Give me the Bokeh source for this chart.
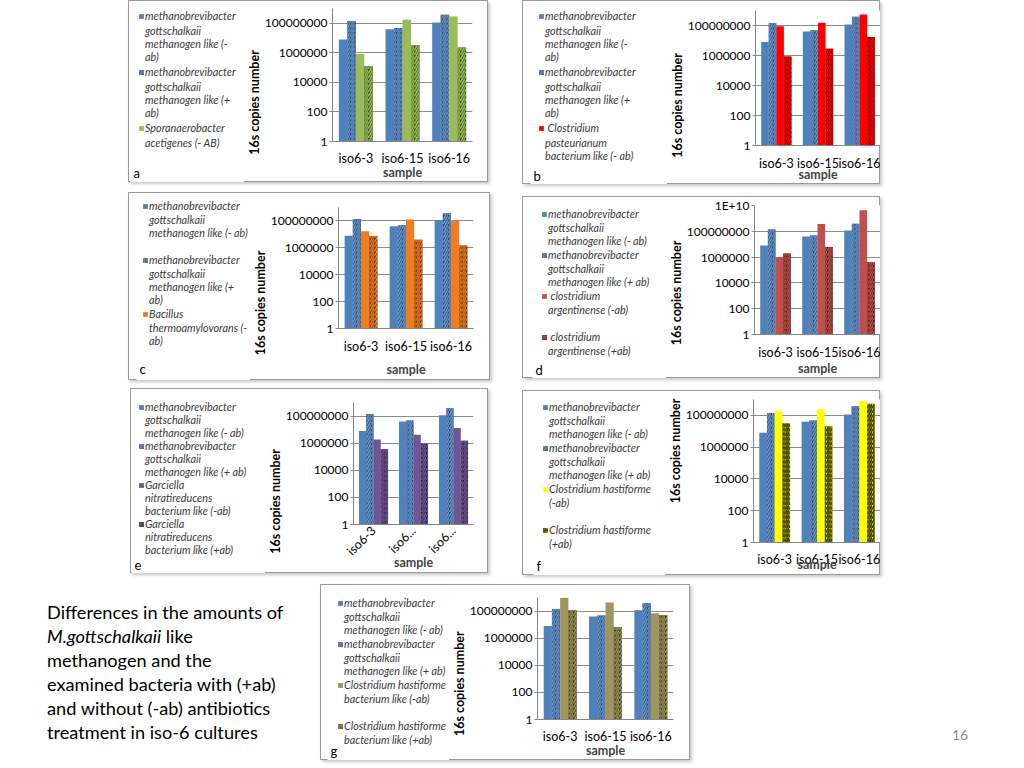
import math
from bokeh.plotting import figure
from bokeh.models import (FactorRange, Range1d, FixedTicker, CustomJSTickFormatter,
                          Legend, LegendItem, Title, Label, Spacer, Div, ColumnDataSource)
from bokeh.layouts import row, column
from bokeh.transform import dodge
from bokeh.embed import file_html
from bokeh.resources import INLINE

FONT = "Lato"

# ---------------- data ----------------
categories = ["iso6-3", "iso6-15", "iso6-16"]
e_tick_labels = ["iso6-3", "iso6...", "iso6..."]   # truncated labels shown in panel e
mg_minus = [8.0e6, 4.0e7, 1.15e8]      # methanobrevibacter gottschalkaii like (-ab)
mg_plus = [1.4e8, 4.8e7, 3.8e8]        # methanobrevibacter gottschalkaii like (+ab)
spor_minus = [8.5e5, 1.7e8, 2.9e8]     # Sporanaerobacter acetigenes (-ab)
spor_plus = [1.3e5, 3.2e6, 2.3e6]      # Sporanaerobacter acetigenes (+ab)
cpast_minus = [9.0e7, 1.5e8, 5.4e8]    # Clostridium pasteurianum (-ab)
cpast_plus = [8.6e5, 2.8e6, 1.7e7]     # Clostridium pasteurianum (+ab)
bac_minus = [1.7e7, 1.26e8, 1.0e8]     # Bacillus thermoamylovorans (-ab)
bac_plus = [7.5e6, 4.0e6, 1.5e6]       # Bacillus thermoamylovorans (+ab)
carg_minus = [1.0e6, 3.6e8, 4.2e9]     # clostridium argentinense (-ab)
carg_plus = [1.9e6, 6.0e6, 4.0e5]      # clostridium argentinense (+ab)
garc_minus = [1.9e6, 4.2e6, 1.3e7]     # Garciella nitratireducens (-ab)
garc_plus = [3.5e5, 9.0e5, 1.5e6]      # Garciella nitratireducens (+ab)
chast_minus = [1.9e8, 2.4e8, 8.0e8]    # Clostridium hastiforme (-ab), panel f
chast_plus = [3.2e7, 2.1e7, 5.5e8]     # Clostridium hastiforme (+ab), panel f
chastb_minus = [9.5e8, 4.3e8, 7.0e7]   # Clostridium hastiforme bacterium like (-ab), panel g
chastb_plus = [1.2e8, 6.6e6, 5.2e7]    # Clostridium hastiforme bacterium like (+ab), panel g

MG_M4 = "methanobrevibacter\ngottschalkaii\nmethanogen like (-\nab)"
MG_P4 = "methanobrevibacter\ngottschalkaii\nmethanogen like (+\nab)"
MG_M3 = "methanobrevibacter\ngottschalkaii\nmethanogen like (- ab)"
MG_P3 = "methanobrevibacter\ngottschalkaii\nmethanogen like (+ ab)"

OFFSETS = [-0.2727, -0.0909, 0.0909, 0.2727]
BW = 0.1818
LEG_FS = 10.8
LEG_LINE = 12.9     # rendered line pitch of the legend labels at LEG_FS
LEFT_ROOM = 83      # tick labels + rotated axis title
TITLE_LEN = 107     # approx. length of the rotated y title in px
BOX_STYLE = {"outline": "1px solid #9a9a9a", "outline-offset": "-1px",
             "box-shadow": "2px 2px 3px rgba(0,0,0,0.22)"}


def style_kw(st):
    fill, hatch, weight = st
    kw = dict(fill_color=fill, line_color=None)
    if hatch:
        kw.update(hatch_pattern="/", hatch_color=hatch, hatch_weight=weight, hatch_scale=4.6)
    return kw


def make_panel(letter, box, frame, ymax, series, styles, legend_labels, legend_first_line,
               pitch, ytitle_y, xstand, letter_xy, tick_labels=None):
    bx, by, W, H = box
    fl, ft, fr, fb = frame
    fl = int(round(fl))
    split = fl - LEFT_ROOM
    lx, l1 = legend_first_line
    ltop = l1 - LEG_LINE / 2
    ltx, lty = letter_xy
    sx = min(ltx - bx - 3, lx - bx)
    m = lx - bx - sx
    if ltop - by - m < 0:
        m = int(ltop - by)
        sx = lx - bx - m
    sy = int(round(ltop - by - m))
    ltx = max(ltx, bx + sx + 3)
    lty = min(lty, by + H - 9)
    first_lines = legend_labels[0].count("\n") + 1
    spacing = int(round(first_lines * (pitch - LEG_LINE) / 2))

    # ---- left part: legend and panel letter ----
    lf = figure(width=split - bx - sx, height=H - sy, x_range=Range1d(0, 1), y_range=Range1d(0, 1),
                output_backend="svg", toolbar_location=None,
                x_axis_location=None, y_axis_location=None,
                min_border_left=0, min_border_right=0, min_border_top=0, min_border_bottom=0)
    lf.outline_line_color = None
    lf.xgrid.visible = False
    lf.ygrid.visible = False
    # legend-only renderers: one bar placed outside the visible ranges
    dummies = [lf.vbar(x=[-10], top=[-5], bottom=[-6], width=0.1, **style_kw(st)) for st in styles]
    blank = lf.vbar(x=[-10], top=[-5], bottom=[-6], width=0.1, fill_alpha=0, line_alpha=0)
    items = []
    for i, lab in enumerate(legend_labels):
        first, _, rest = lab.partition("\n")
        items.append(LegendItem(label=first, renderers=[dummies[i]]))
        if rest:
            items.append(LegendItem(label=rest, renderers=[blank]))
    leg = Legend(items=items, location="top_left",
                 glyph_width=6, glyph_height=6, label_standoff=1, padding=0, spacing=spacing,
                 margin=m, label_height=10, label_width=10,
                 border_line_color=None, background_fill_alpha=0,
                 label_text_font=FONT, label_text_font_size=f"{LEG_FS}px",
                 label_text_font_style="italic", label_text_color="#3a3a3a")
    lf.add_layout(leg)
    lf.add_layout(Label(x=ltx - (bx + sx), y=(by + H) - lty, x_units="screen", y_units="screen",
                        text=letter, text_align="left", text_baseline="middle",
                        text_font=FONT, text_font_size="13px", text_color="black"))
    left = row(Spacer(width=sx, height=H), column(Spacer(width=10, height=sy), lf))

    # ---- chart part ----
    src = ColumnDataSource(dict(cat=categories, **{f"s{i}": s for i, s in enumerate(series)}))
    p = figure(width=bx + W - split, height=H,
               x_range=FactorRange(factors=categories, range_padding=0),
               y_range=Range1d(1, ymax), y_axis_type="log",
               output_backend="svg", toolbar_location=None,
               min_border_left=LEFT_ROOM, min_border_right=int(round(bx + W - fr)),
               min_border_top=int(round(ft - by)), min_border_bottom=int(round(by + H - fb)))
    p.outline_line_color = None
    p.background_fill_color = "white"
    p.border_fill_color = None

    ticks = [1, 1e2, 1e4, 1e6, 1e8] + ([1e10] if ymax >= 1e10 else [])
    tk = FixedTicker(ticks=ticks)
    p.yaxis.ticker = tk
    p.ygrid.ticker = tk
    p.yaxis.formatter = CustomJSTickFormatter(
        code="return tick >= 1e10 ? tick.toExponential(0).toUpperCase() : tick.toFixed(0);")
    p.ygrid.grid_line_color = "#8c8c8c"
    p.xgrid.grid_line_color = None

    for ax in (p.xaxis, p.yaxis):
        ax.axis_line_color = "#868686"
        ax.major_label_text_font = FONT
        ax.major_label_text_font_size = "12.5px"
        ax.major_label_text_color = "black"
        ax.minor_tick_line_color = None
    p.yaxis.major_label_text_font_size = "12px"
    p.yaxis.major_tick_line_color = "#868686"
    p.yaxis.major_tick_out = 3
    p.yaxis.major_tick_in = 0
    p.yaxis.major_label_standoff = 2
    p.xaxis.major_tick_line_color = None
    p.xaxis.major_tick_out = 0
    p.xaxis.major_label_standoff = xstand[0]
    p.xaxis.axis_label = "sample"
    p.xaxis.axis_label_text_font = FONT
    p.xaxis.axis_label_text_font_style = "bold"
    p.xaxis.axis_label_text_font_size = "12.5px"
    p.xaxis.axis_label_standoff = xstand[1]
    if tick_labels is not None:
        p.xaxis.major_label_orientation = math.pi / 4
        p.xaxis.formatter = CustomJSTickFormatter(
            args=dict(lab=dict(zip(categories, tick_labels))), code="return lab[tick];")

    p.add_layout(Title(text="16s copies number", align="left",
                       offset=fb - (ytitle_y + TITLE_LEN / 2),
                       standoff=0, text_font=FONT, text_font_style="bold",
                       text_font_size="12.5px", text_color="black"), "left")

    for i, st in enumerate(styles):
        p.vbar(x=dodge("cat", OFFSETS[i], range=p.x_range), top=f"s{i}", bottom=1,
               width=BW, source=src, **style_kw(st))

    return row(left, p, styles=BOX_STYLE)


BLUE = ("#4F81BD", None, 0)
BLUE_HATCH = ("#1C3557", "#6C9BD2", 1.5)


def sty(col, dark, hatch_on_dark=True, weight=1.6):
    if hatch_on_dark:
        return [BLUE, BLUE_HATCH, (col, None, 0), (dark, col, weight)]
    return [BLUE, BLUE_HATCH, (col, None, 0), (col, dark, weight)]


pa = make_panel("a", (128, 0, 360, 182), (327, 8.5, 472, 141.7), 1e9,
                [mg_minus, mg_plus, spor_minus, spor_plus], sty("#9BBB59", "#22300E"),
                [MG_M4, MG_P4, "Sporanaerobacter\nacetigenes (- AB)"],
                (138, 15), 13.75, 101.5, (9, -4), (133, 172))
pb = make_panel("b", (522, 0, 358, 184), (750, 10, 880, 145.7), 1e9,
                [mg_minus, mg_plus, cpast_minus, cpast_plus], sty("#FF0000", "#3A0000"),
                [MG_M4, MG_P4, " Clostridium\npasteurianum\nbacterium like (- ab)"],
                (538, 15), 13.8, 104.5, (10, -7), (533, 175))
pc = make_panel("c", (128, 192, 362, 188), (333, 207.4, 473, 327.7), 1e9,
                [mg_minus, mg_plus, bac_minus, bac_plus], sty("#F07D22", "#3A1800"),
                [MG_M3 + "\n ", MG_P4, "Bacillus\nthermoamylovorans (-\nab)"],
                (142, 205), 13.5, 301, (10, 5), (133, 368))
pd = make_panel("d", (522, 196, 358, 182), (749, 205, 880, 336.7), 1e10,
                [mg_minus, mg_plus, carg_minus, carg_plus], sty("#C0504D", "#2A0808"),
                [MG_M3, MG_P3, " clostridium\nargentinense (-ab)\n ", " clostridium\nargentinense (+ab)"],
                (541, 213), 13.3, 294, (10, -2), (535, 369))
pe = make_panel("e", (130, 388, 358, 185), (348, 402, 473, 524.3), 1e9,
                [mg_minus, mg_plus, garc_minus, garc_plus], sty("#6F5596", "#141018"),
                [MG_M3, MG_P3, "Garciella\nnitratireducens\nbacterium like (-ab)",
                 "Garciella\nnitratireducens\nbacterium like (+ab)"],
                (138, 406), 12.9, 500, (4, -12), (134, 564), tick_labels=e_tick_labels)
pf = make_panel("f", (522, 390, 358, 185), (748, 399, 880, 541.7), 1e9,
                [mg_minus, mg_plus, chast_minus, chast_plus],
                sty("#FFFF00", "#3B3B00", hatch_on_dark=False, weight=1.8),
                [MG_M3, MG_P3, "Clostridium hastiforme\n(-ab)\n ", "Clostridium hastiforme\n(+ab)"],
                (542, 406), 13.6, 449, (9, -13), (533, 565))
pg = make_panel("g", (320, 584, 370, 176), (532, 597, 673, 720), 1e9,
                [mg_minus, mg_plus, chastb_minus, chastb_plus], sty("#A0965C", "#1A1808"),
                [MG_M3, MG_P3, "Clostridium hastiforme\nbacterium like (-ab)\n ",
                 "Clostridium hastiforme\nbacterium like (+ab)"],
                (337, 602), 13.3, 683, (9, -4), (330, 750))

caption = Div(text=('<div style="font-family:Lato;font-size:18.2px;line-height:24px;color:#000;'
                    'white-space:nowrap;">'
                    'Differences in the amounts of<br><i>M.gottschalkaii</i> like<br>'
                    'methanogen and the<br>examined bacteria with (+ab)<br>'
                    'and without (-ab) antibiotics<br>treatment in iso-6 cultures</div>'),
              width=273, height=160, margin=0)
pagenum = Div(text='<div style="font-family:Lato;font-size:14px;color:#8c8c8c;">16</div>',
              width=30, height=20, margin=0)

row1 = row(Spacer(width=128, height=184), pa, Spacer(width=34, height=10), pb)
row2 = row(Spacer(width=128, height=188), pc, Spacer(width=32, height=10),
           column(Spacer(width=10, height=4), pd))
row3 = row(Spacer(width=130, height=187), pe, Spacer(width=34, height=10),
           column(Spacer(width=10, height=2), pf))
row4 = row(Spacer(width=47, height=176), column(Spacer(width=10, height=16), caption), pg,
           Spacer(width=262, height=10), column(Spacer(width=10, height=141), pagenum))

root = column(row1, Spacer(width=10, height=8), row2, Spacer(width=10, height=8), row3,
              Spacer(width=10, height=9), row4)

open("out.html", "w").write(file_html(root, INLINE))
